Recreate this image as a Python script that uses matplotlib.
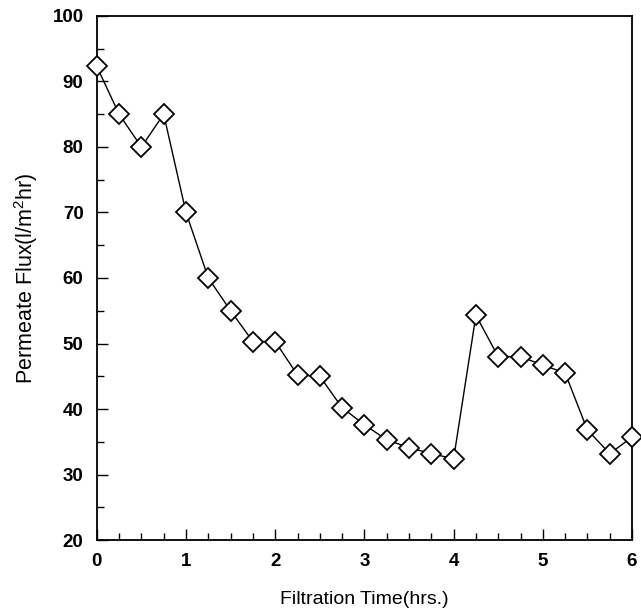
import matplotlib
matplotlib.use("Agg")
import matplotlib.pyplot as plt
from matplotlib.ticker import MultipleLocator

# filtration time (hrs) and permeate flux (l/m2hr)
time_hrs = [0.0, 0.25, 0.5, 0.75, 1.0, 1.25, 1.5, 1.75, 2.0, 2.25, 2.5, 2.75,
            3.0, 3.25, 3.5, 3.75, 4.0, 4.25, 4.5, 4.75, 5.0, 5.25, 5.5, 5.75, 6.0]
flux = [92.3, 85.0, 80.0, 85.0, 70.0, 60.0, 55.0, 50.3, 50.3, 45.2, 45.0, 40.2,
        37.6, 35.3, 34.1, 33.2, 32.4, 54.3, 48.0, 48.0, 46.7, 45.5, 36.8, 33.2, 35.7]

x_ticks = [0, 1, 2, 3, 4, 5, 6]
y_ticks = [20, 30, 40, 50, 60, 70, 80, 90, 100]

plt.rcParams.update({
    "font.family": ["Liberation Sans", "DejaVu Sans"],
    "mathtext.fontset": "custom",
    "mathtext.rm": "Liberation Sans",
    "mathtext.it": "Liberation Sans",
})

fig = plt.figure(figsize=(6.41, 6.13), dpi=100)
ax = fig.add_axes([0.151, 0.119, 0.835, 0.855])

ax.plot(time_hrs, flux, color="black", linewidth=1.0, marker="D",
        markersize=10.5, markerfacecolor="white", markeredgecolor="black",
        markeredgewidth=1.3, clip_on=False, zorder=3)

ax.set_xlim(0, 6)
ax.set_ylim(20, 100)
ax.set_xticks(x_ticks)
ax.set_yticks(y_ticks)
ax.xaxis.set_minor_locator(MultipleLocator(0.25))
ax.yaxis.set_minor_locator(MultipleLocator(5))
ax.tick_params(which="both", direction="in", top=False, right=False,
               width=1.0, labelsize=13.5, pad=9.5)
ax.tick_params(which="major", length=8)
ax.tick_params(which="minor", length=5)
for lab in ax.get_xticklabels() + ax.get_yticklabels():
    lab.set_fontweight("bold")

for sp in ax.spines.values():
    sp.set_linewidth(1.3)

ax.set_xlabel("Filtration Time(hrs.)", fontsize=14, labelpad=15)
ax.set_ylabel("Permeate Flux(l/m$^{2}$hr)", fontsize=15.5, labelpad=9)

fig.savefig("out.png", dpi=100)
